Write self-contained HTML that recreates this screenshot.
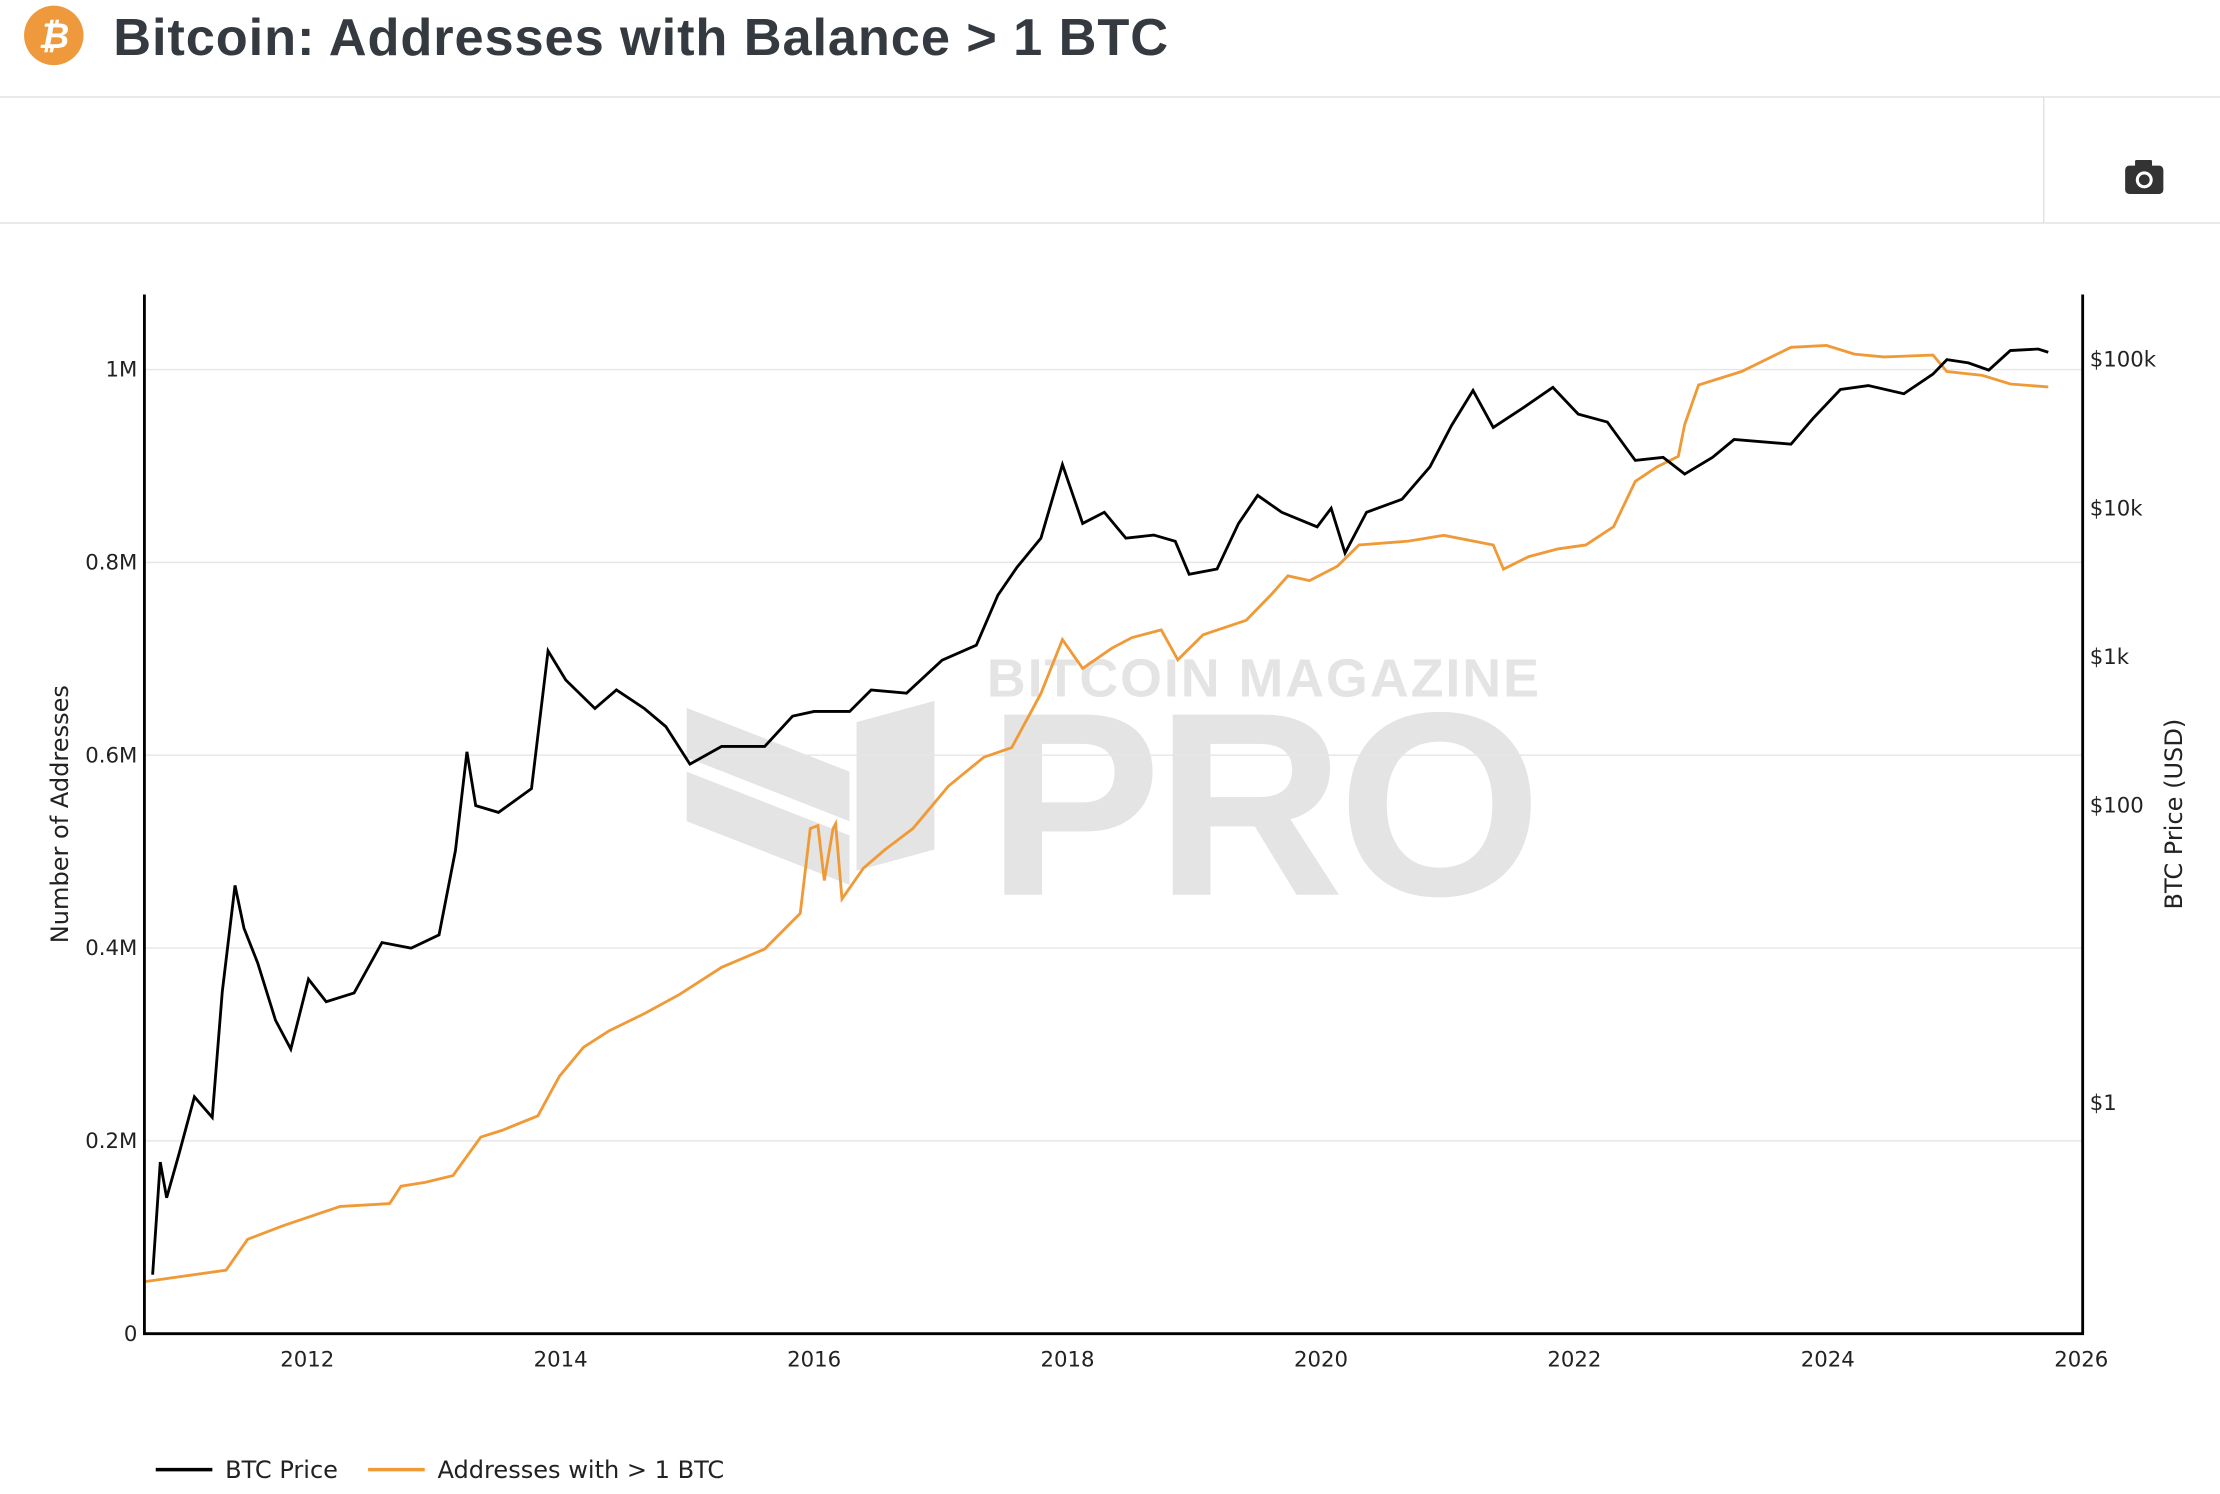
<!DOCTYPE html>
<html><head><meta charset="utf-8"><style>
html,body{margin:0;padding:0;background:#fff;}
svg{display:block;font-family:"DejaVu Sans","Liberation Sans",sans-serif;}
</style></head><body>
<svg id="c" width="2220" height="1494" viewBox="0 0 1568 1055.2" xmlns="http://www.w3.org/2000/svg">
<g>
<circle cx="38" cy="25" r="21" fill="#ee9a3c"/>
<text x="38" y="34" text-anchor="middle" fill="#fff" font-size="25" font-weight="bold" font-style="italic" font-family="Liberation Sans,sans-serif">₿</text>
<text x="80" y="39" fill="#343a40" font-size="37" font-weight="bold" font-family="Liberation Sans,sans-serif" textLength="745">Bitcoin: Addresses with Balance &gt; 1 BTC</text>
<line x1="0" y1="68.5" x2="1568" y2="68.5" stroke="#e2e2e2"/>
<line x1="0" y1="157.5" x2="1568" y2="157.5" stroke="#e2e2e2"/>
<line x1="1443.5" y1="68" x2="1443.5" y2="157" stroke="#e2e2e2"/>
<g>
<rect x="1501" y="117" width="27" height="20" rx="3" fill="#333"/>
<rect x="1508" y="113" width="12" height="6" rx="1" fill="#333"/>
<circle cx="1514.5" cy="127" r="6" fill="#fff"/><circle cx="1514.5" cy="127" r="3.8" fill="#333"/>
</g>
</g>
<g fill="#e4e4e4">
<text x="892" y="492" text-anchor="middle" font-size="38" font-weight="bold" font-family="Liberation Sans,sans-serif" textLength="390">BITCOIN MAGAZINE</text>
<text x="893" y="632" text-anchor="middle" font-size="185" font-weight="bold" font-family="Liberation Sans,sans-serif" textLength="392">PRO</text>
<polygon points="485,500 600,545 600,580 485,535"/><polygon points="485,545 600,590 600,625 485,580"/>
<polygon points="605,510 660,495 660,600 605,615"/>
</g>
<g id="grid"></g>
<g id="series"></g>
<g id="axes"></g>
<g font-size="17" fill="#222">
<g><line x1="110" y1="1038" x2="150" y2="1038" stroke="#000" stroke-width="2.5"/><text x="159" y="1044">BTC Price</text></g>
<g><line x1="260" y1="1038" x2="300" y2="1038" stroke="#f09a37" stroke-width="2.5"/><text x="309" y="1044">Addresses with &gt; 1 BTC</text></g>
</g>
</svg>
<script>
const priceYears=[2010.78,2010.84,2010.89,2010.99,2011.11,2011.25,2011.33,2011.43,2011.50,2011.61,2011.75,2011.87,2012.01,2012.15,2012.37,2012.59,2012.82,2013.04,2013.17,2013.26,2013.33,2013.51,2013.77,2013.90,2014.04,2014.27,2014.44,2014.66,2014.83,2015.02,2015.27,2015.61,2015.83,2016.00,2016.28,2016.45,2016.73,2017.01,2017.28,2017.45,2017.60,2017.79,2017.96,2018.12,2018.29,2018.46,2018.68,2018.85,2018.96,2019.18,2019.35,2019.50,2019.69,2019.97,2020.08,2020.19,2020.36,2020.64,2020.86,2021.03,2021.20,2021.36,2021.59,2021.83,2022.03,2022.26,2022.48,2022.70,2022.87,2023.09,2023.26,2023.71,2023.88,2024.10,2024.32,2024.60,2024.83,2024.94,2025.11,2025.27,2025.44,2025.66,2025.74];
const priceValues=[0.07,0.4,0.23,0.46,1.1,0.8,5.6,29,15,8.7,3.6,2.3,6.8,4.8,5.5,12,11,13.5,50,230,100,90,130,1100,700,450,600,450,340,190,250,250,400,430,430,600,570,950,1200,2600,4000,6300,19700,7900,9400,6300,6600,6000,3600,3900,7900,12200,9400,7500,10000,5000,9400,11500,19000,36000,62000,35000,47000,65000,43000,38000,21000,22000,17000,22000,29000,27000,40000,63000,67000,59000,80000,100000,95000,85000,115000,118000,112000];
const addrYears=[2010.72,2011.36,2011.53,2011.81,2012.26,2012.65,2012.74,2012.93,2013.15,2013.37,2013.54,2013.82,2013.99,2014.18,2014.38,2014.66,2014.94,2015.27,2015.61,2015.89,2015.97,2016.03,2016.08,2016.15,2016.17,2016.22,2016.39,2016.56,2016.78,2017.06,2017.34,2017.56,2017.79,2017.96,2018.12,2018.35,2018.51,2018.74,2018.87,2019.07,2019.41,2019.61,2019.74,2019.91,2020.13,2020.30,2020.69,2020.97,2021.36,2021.44,2021.64,2021.87,2022.09,2022.31,2022.48,2022.65,2022.82,2022.87,2022.98,2023.32,2023.71,2023.99,2024.21,2024.44,2024.83,2024.94,2025.22,2025.44,2025.74];
const addrValues=[54000,66000,98000,112000,132000,135000,153000,157000,164000,204000,211000,226000,267000,297000,314000,332000,352000,380000,399000,436000,524000,527000,470000,524000,529000,451000,483000,502000,524000,568000,598000,608000,664000,720000,690000,711000,722000,730000,699000,725000,740000,767000,786000,781000,796000,818000,822000,828000,818000,793000,806000,814000,818000,837000,884000,899000,910000,943000,984000,998000,1023000,1025000,1016000,1013000,1015000,998000,994000,985000,982000];
const leftTicks=[0,200000,400000,600000,800000,1000000];
const leftTickLabels=["0","0.2M","0.4M","0.6M","0.8M","1M"];
const rightTicks=[1,100,1000,10000,100000];
const rightTickLabels=["$1","$100","$1k","$10k","$100k"];
const xTicks=[2012,2014,2016,2018,2020,2022,2024,2026];

const L=102,R=1471,T=208,B=942;
const xs=y=>217+(y-2012)*89.5;
const yl=v=>B-v/1e6*681;
const yr=p=>254+(5-Math.log10(p))*105;
const NS="http://www.w3.org/2000/svg";
function mk(tag,attrs,parent){const e=document.createElementNS(NS,tag);for(const k in attrs)e.setAttribute(k,attrs[k]);parent.appendChild(e);return e;}
const grid=document.getElementById('grid'),axes=document.getElementById('axes'),series=document.getElementById('series');
leftTicks.forEach((v,i)=>{
  if(v>0){const g=mk('line',{x1:L,x2:R,y1:yl(v),y2:yl(v),stroke:'#e6e6e6'},grid);
  
  }
  const t=mk('text',{x:97,y:yl(v)+5,'text-anchor':'end','font-size':15,fill:'#222'},axes);t.textContent=leftTickLabels[i];
  
  
});
rightTicks.forEach((v,i)=>{
  const t=mk('text',{x:1476,y:yr(v)+5,'font-size':15,fill:'#222'},axes);t.textContent=rightTickLabels[i];
  
  
});
xTicks.forEach(v=>{
  const t=mk('text',{x:xs(v),y:965,'text-anchor':'middle','font-size':15,fill:'#222'},axes);t.textContent=v;
  
  
});
const ax=mk('path',{d:`M${L},${T}V${B}H${R}V${T}`,fill:'none',stroke:'#000','stroke-width':2},axes);


const yt=mk('text',{transform:'translate(48,575) rotate(-90)','text-anchor':'middle','font-size':17,fill:'#222'},axes);yt.textContent='Number of Addresses';


const yt2=mk('text',{transform:'translate(1541,575) rotate(-90)','text-anchor':'middle','font-size':17,fill:'#222'},axes);yt2.textContent='BTC Price (USD)';


const pa=mk('polyline',{points:addrYears.map((y,i)=>xs(y).toFixed(1)+','+yl(addrValues[i]).toFixed(1)).join(' '),fill:'none',stroke:'#f09a37','stroke-width':2},series);


const pp=mk('polyline',{points:priceYears.map((y,i)=>xs(y).toFixed(1)+','+yr(priceValues[i]).toFixed(1)).join(' '),fill:'none',stroke:'#000','stroke-width':2},series);


</script>
</body></html>
